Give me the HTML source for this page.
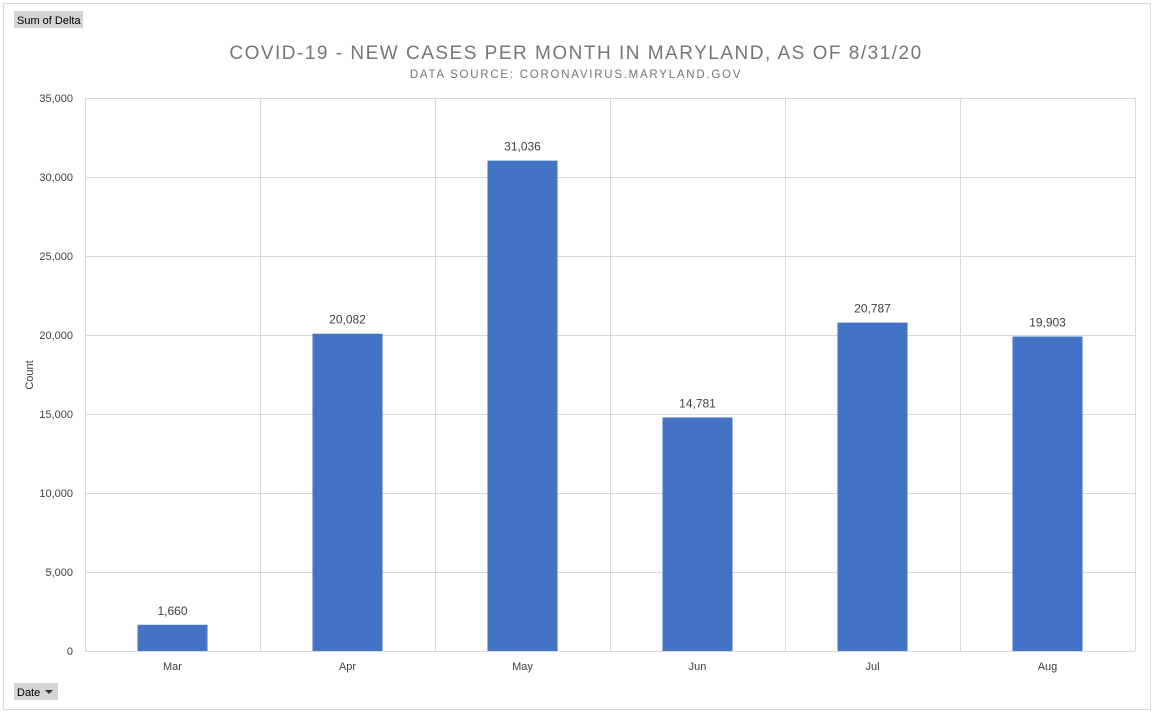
<!DOCTYPE html>
<html><head><meta charset="utf-8">
<style>
body{margin:0;background:#fff;width:1156px;height:716px;overflow:hidden;font-family:"Liberation Sans",sans-serif;}
svg text{font-family:"Liberation Sans",sans-serif;}
</style></head>
<body>
<svg id="chart" width="1156" height="716">
<rect x="3.5" y="3.5" width="1147" height="706" fill="#fff" stroke="#d9d9d9"/>
<g>
<rect x="14" y="11" width="69" height="17" fill="#d4d4d4"/>
<text x="17" y="24" font-size="11" fill="#000">Sum of Delta</text>
</g>
<g>
<rect x="14" y="683" width="44" height="17" fill="#d4d4d4"/>
<text x="17" y="696" font-size="11" fill="#000">Date</text>
<path d="M45 690 L53 690 L49 694 Z" fill="#333"/>
</g>
<text x="576" y="59" text-anchor="middle" font-size="19" letter-spacing="1.5" fill="#757575">COVID-19 - NEW CASES PER MONTH IN MARYLAND, AS OF 8/31/20</text>
<text x="576" y="78" text-anchor="middle" font-size="11.5" letter-spacing="1.75" fill="#757575">DATA SOURCE: CORONAVIRUS.MARYLAND.GOV</text>
<text transform="translate(33,375) rotate(-90)" text-anchor="middle" font-size="11" fill="#404040">Count</text>
<g id="grid"></g><g id="bars"></g>
</svg>
<script>
const categories=["Mar","Apr","May","Jun","Jul","Aug"];
const values=[1660,20082,31036,14781,20787,19903];
const yTicks=[0,5000,10000,15000,20000,25000,30000,35000];
const L=85,R=1135,T=98,B=651,yMax=35000;
const NS="http://www.w3.org/2000/svg";
const y=v=>B-(v/yMax)*(B-T);
const bw=(R-L)/categories.length;
const x=i=>L+i*bw;
const g=document.getElementById('grid'),bg=document.getElementById('bars');
function mk(tag,attrs,parent,txt){const e=document.createElementNS(NS,tag);for(const k in attrs)e.setAttribute(k,attrs[k]);if(txt!==undefined)e.textContent=txt;parent.appendChild(e);return e;}
yTicks.forEach(t=>{
 const l=mk('line',{x1:L,x2:R,y1:y(t)+0.5,y2:y(t)+0.5,stroke:'#d9d9d9'},g);
 
 
 const tx=mk('text',{x:73,y:y(t)+4,'text-anchor':'end','font-size':11,fill:'#404040'},g,t.toLocaleString('en-US'));
 
 
});
for(let i=0;i<=categories.length;i++){
 const l=mk('line',{x1:x(i)+0.5,x2:x(i)+0.5,y1:T,y2:B,stroke:'#d9d9d9'},g);
 
 
}
categories.forEach((c,i)=>{
 const cx=x(i)+bw/2,w=70;
 const r=mk('rect',{x:cx-w/2,y:y(values[i]),width:w,height:B-y(values[i]),fill:'#4472c4'},bg);
 
 
 const lb=mk('text',{x:cx,y:y(values[i])-10,'text-anchor':'middle','font-size':12,fill:'#404040'},bg,values[i].toLocaleString('en-US'));
 
 
 const xt=mk('text',{x:cx,y:670,'text-anchor':'middle','font-size':11,fill:'#404040'},bg,c);
 
 
});
</script>
</body></html>
